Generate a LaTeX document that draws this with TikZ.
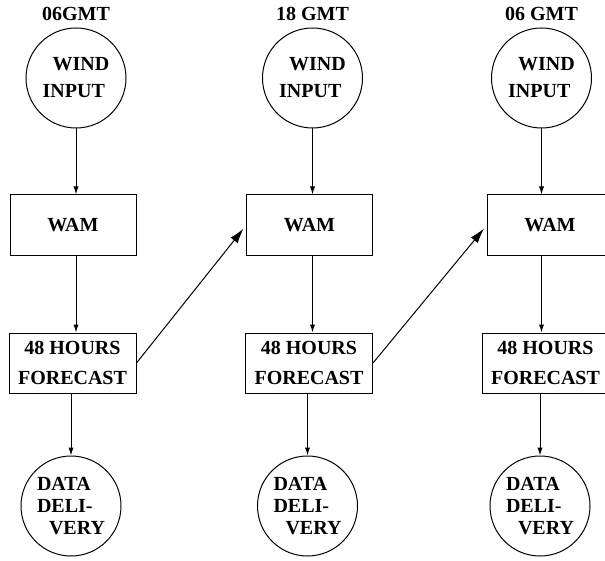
\documentclass[tikz,border=0pt]{standalone}
\usepackage{fontspec}
\setmainfont{Liberation Serif}
\usetikzlibrary{arrows.meta,positioning}

\begin{document}
\begin{tikzpicture}[x=0.5pt,y=-0.5pt,
hub/.style={circle, draw, line width=0.5pt, minimum size=50pt, inner sep=0pt, align=left},
windtext/.style={font=\bfseries\fontsize{10}{13.5}\selectfont},
datatext/.style={font=\bfseries\fontsize{10}{11}\selectfont},
wambox/.style={rectangle, draw, line width=0.5pt, minimum width=63pt, minimum height=30.5pt, font=\bfseries\fontsize{10}{12}\selectfont},
fcbox/.style={rectangle, draw, line width=0.5pt, minimum width=63.5pt, minimum height=30pt, inner sep=0pt, align=center, font=\bfseries\fontsize{10}{15}\selectfont},
stamp/.style={draw=none, fill=none, inner sep=0pt, font=\bfseries\fontsize{10}{12}\selectfont},
feed/.style={line width=0.5pt, -{Latex[length=4pt,width=2.6pt]}},
carry/.style={line width=0.5pt, -{Latex[length=7.5pt,width=4.5pt]}, shorten >=2pt}]

%% local variables
\def \ywind {78}
\def \ywam {225.5}
\def \yfc {363}
\def \ydata {506}

\clip (0,0) rectangle (605,561);

%% one column per forecast run
\foreach \c/\xw/\xb/\xf/\xd/\t in {1/76/73/72.5/71/06GMT, 2/312.5/309.5/309/307.5/18 GMT, 3/541.5/550/545.5/540/06 GMT} {
      \node[stamp] (time-\c) at (\xw,13.5) {\t};
      \node[hub,windtext] (wind-\c) at (\xw,\ywind) {\hspace*{5pt}WIND\\INPUT};
      \node[wambox] (wam-\c) at (\xb,\ywam) {WAM};
      \node[fcbox] (fc-\c) at (\xf,\yfc) {48 HOURS\\FORECAST};
      \node[hub,datatext] (data-\c) at (\xd,\ydata) {DATA\\DELI-\\\hspace*{6pt}VERY};

      \draw[feed] (wind-\c.south) -- (wind-\c.south |- wam-\c.north);
      \draw[feed] (wam-\c.south -| wind-\c) -- (wind-\c |- fc-\c.north);
      \draw[feed] (fc-\c.south -| data-\c) -- (data-\c.north);
}

%% hand over to the next run
\foreach \a/\b in {1/2, 2/3}
      \draw[carry] (fc-\a.east) -- (wam-\b.west);

\end{tikzpicture}
\end{document}
